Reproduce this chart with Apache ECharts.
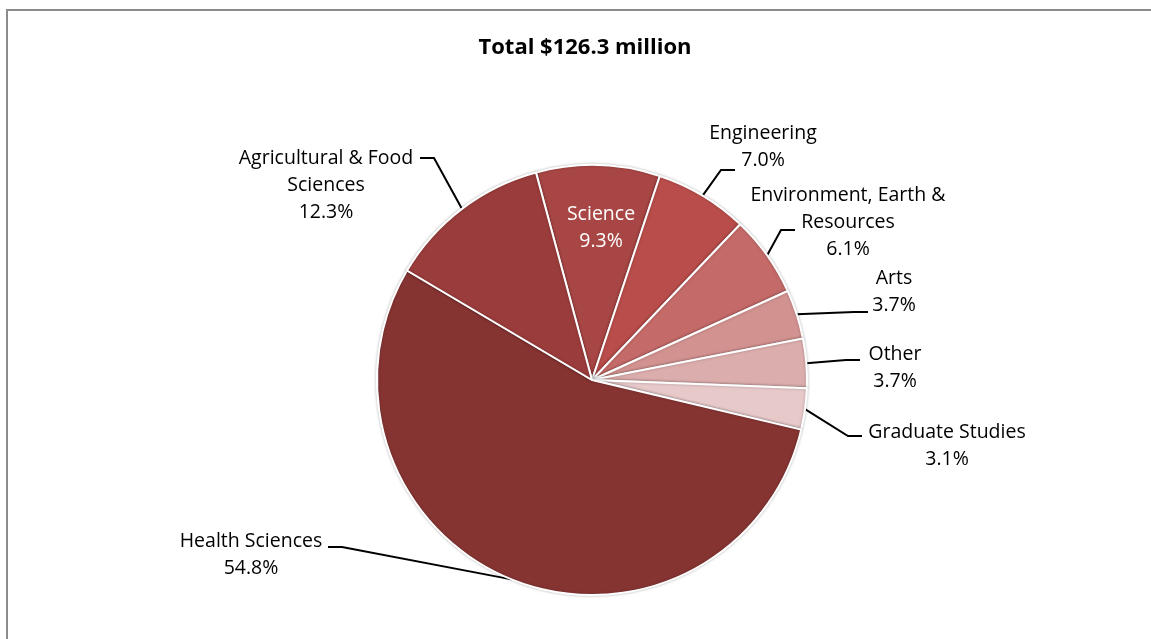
<!DOCTYPE html>
<html>
<head>
<meta charset="utf-8">
<title>Research funding by faculty</title>
<script src="https://cdn.jsdelivr.net/npm/echarts@6/dist/echarts.min.js"></script>
<style>
  html, body { margin: 0; padding: 0; background: #fff; overflow: hidden; }
  #frame { position: absolute; left: 6px; top: 9px; width: 1300px; height: 800px;
           border-left: 2px solid #8c8c8c; border-top: 2px solid #8c8c8c; box-sizing: border-box; }
  #chart { position: absolute; left: 0; top: 0; width: 1151px; height: 639px; }
</style>
</head>
<body>
<div id="frame"></div>
<div id="chart"></div>
<script>
// Share of total research funding by faculty (percent)
const categories = [
  'Science', 'Engineering', 'Environment, Earth & Resources', 'Arts',
  'Other', 'Graduate Studies', 'Health Sciences', 'Agricultural & Food Sciences'
];
const shares = [9.3, 7.0, 6.1, 3.7, 3.7, 3.1, 54.8, 12.3];
const labelNames = [
  'Science', 'Engineering', 'Environment, Earth &\nResources', 'Arts',
  'Other', 'Graduate Studies', 'Health Sciences', 'Agricultural & Food\nSciences'
];
const sliceColors = ['#A84645', '#B84D4B', '#C46A68', '#D29290', '#DCADAD', '#E7C9CA', '#853432', '#9A3C3B'];
const titleText = 'Total $126.3 million';

// Label block centres and where each leader line meets its label
const labelSpots = [
  { x: 601, y: 228 },
  { x: 763, y: 147, end: [735, 170], dir: -1 },
  { x: 848, y: 222, end: [795, 230], dir: -1 },
  { x: 894, y: 292, end: [868, 312], dir: -1 },
  { x: 895, y: 368, end: [860, 360], dir: -1 },
  { x: 947, y: 446, end: [862, 436], dir: -1 },
  { x: 251, y: 555, end: [328, 547], dir: 1 },
  { x: 326, y: 185, end: [420, 158], dir: 1 }
];

const center = [592, 380];
const radius = 215;
const font = '"Open Sans", "Noto Sans", sans-serif';

const data = categories.map((c, i) => {
  const item = {
    name: c,
    value: shares[i],
    itemStyle: { color: sliceColors[i] },
    label: {
      formatter: labelNames[i] + '\n' + shares[i].toFixed(1) + '%'
    }
  };
  if (i === 0) {
    item.label.position = 'inside';
    item.label.color = '#ffffff';
    item.labelLine = { show: false };
  }
  return item;
});

const chart = echarts.init(document.getElementById('chart'), null, { renderer: 'canvas' });

chart.setOption({
  backgroundColor: 'transparent',
  animation: false,
  title: {
    text: titleText,
    left: 580,
    textAlign: 'center',
    top: 32,
    textStyle: { fontFamily: font, fontSize: 22, fontWeight: 'bold', color: '#000' }
  },
  series: [{
    type: 'pie',
    center: center,
    radius: radius,
    startAngle: 105.1,
    clockwise: true,
    avoidLabelOverlap: false,
    data: data,
    itemStyle: {
      borderColor: '#ffffff',
      borderWidth: 2,
      shadowBlur: 3,
      shadowColor: 'rgba(0,0,0,0.25)'
    },
    label: {
      show: true,
      position: 'outside',
      color: '#000',
      fontFamily: font,
      fontSize: 19.5,
      lineHeight: 27,
      align: 'center'
    },
    labelLine: {
      show: true,
      length: 10,
      length2: 10,
      lineStyle: { color: '#000', width: 2 }
    },
    labelLayout: function (params) {
      const spot = labelSpots[params.dataIndex];
      const out = { x: spot.x, y: spot.y, align: 'center', verticalAlign: 'middle' };
      if (spot.end && params.labelLinePoints && params.labelLinePoints.length) {
        const start = params.labelLinePoints[0];
        const elbow = [spot.end[0] + spot.dir * 14, spot.end[1]];
        out.labelLinePoints = [start, elbow, spot.end];
      }
      return out;
    }
  }]
});
</script>
</body>
</html>
